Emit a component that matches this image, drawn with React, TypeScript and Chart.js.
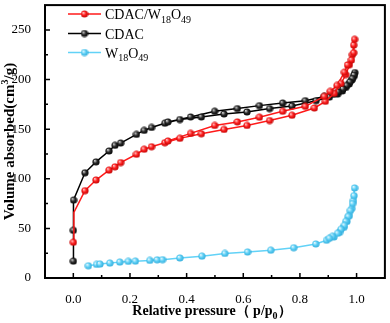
import React, { useEffect, useRef } from "react";
import { Chart, registerables } from "chart.js";

Chart.register(...registerables);

const FONT = '"Liberation Serif", "Times New Roman", serif';

// CDAC/W18O49 (adsorption then desorption, in measurement order)
const compositeX = [0.0, 0.002, 0.041, 0.08, 0.126, 0.147, 0.167, 0.223, 0.25, 0.276, 0.323, 0.376, 0.452, 0.532, 0.613, 0.693, 0.772, 0.851, 0.89, 0.921, 0.945, 0.962, 0.975, 0.985, 0.99, 0.993,
  0.99, 0.982, 0.968, 0.957, 0.931, 0.907, 0.886, 0.819, 0.739, 0.657, 0.579, 0.499, 0.414, 0.334];
const compositeY = [36, 66, 88, 98.7, 108.7, 112, 116.3, 124.7, 129.7, 132.3, 136.3, 140.7, 145.3, 149.7, 153.7, 158.7, 164, 171.3, 178, 186, 196, 205, 215, 225, 234.7, 240.5,
  227, 219.7, 214.7, 207.3, 194, 188, 183, 173, 168, 162, 157.3, 153.7, 145.7, 138];
const compositeHidden = [1];

// CDAC
const cdacX = [0.0, 0.0, 0.001, 0.041, 0.08, 0.126, 0.147, 0.167, 0.223, 0.25, 0.276, 0.323, 0.376, 0.452, 0.532, 0.613, 0.693, 0.772, 0.857, 0.904, 0.933, 0.95, 0.962, 0.974, 0.983, 0.99, 0.994,
  0.991, 0.985, 0.976, 0.965, 0.952, 0.935, 0.918, 0.886, 0.819, 0.739, 0.657, 0.579, 0.499, 0.414, 0.334];
const cdacY = [17, 48, 78.5, 106, 117, 128, 133.7, 136, 144.7, 148.7, 151.7, 156, 159.7, 162.3, 165.3, 167.3, 170.7, 173.3, 178.7, 182.3, 185.3, 188.5, 192, 195.5, 199.5, 203, 207,
  204.5, 201, 197.5, 194, 190.5, 187.5, 185, 183, 178.7, 176.3, 173.7, 170.7, 168, 162.3, 157.3];

// W18O49
const woX = [0.053, 0.082, 0.094, 0.129, 0.164, 0.194, 0.219, 0.27, 0.296, 0.315, 0.376, 0.454, 0.535, 0.615, 0.697, 0.778, 0.856, 0.894, 0.92, 0.94, 0.955, 0.966, 0.975, 0.983, 0.989, 0.993,
  0.991, 0.986, 0.978, 0.971, 0.962, 0.957, 0.945, 0.933, 0.915, 0.904];
const woY = [12.3, 13.7, 14, 15, 16, 16.7, 17, 17.7, 18.3, 18.5, 20.2, 22, 24.7, 26.2, 28, 30.5, 34.3, 38, 41.3, 46, 51, 57, 63, 70, 78, 90.7,
  83, 75, 68, 62, 57, 53, 49, 45, 42, 40];

const seriesNames = ["CDAC/W18O49", "CDAC", "W18O49"];
const seriesColors = ["#ff1a1a", "#000000", "#62d2f7"];

const xTicks = [0, 0.2, 0.4, 0.6, 0.8, 1.0];
const xMinorTicks = [0.1, 0.3, 0.5, 0.7, 0.9];
const yTicks = [0, 50, 100, 150, 200, 250];
const yMinorTicks = [25, 75, 125, 175, 225];

type Part = { text: string; sub?: boolean; sup?: boolean };

function makeBall(base: string, light: string, dark: string) {
  const c = document.createElement("canvas");
  c.width = 8;
  c.height = 8;
  const g = c.getContext("2d")!;
  const grad = g.createRadialGradient(2.7, 2.7, 0.2, 4, 4, 4);
  grad.addColorStop(0, light);
  grad.addColorStop(0.45, base);
  grad.addColorStop(1, dark);
  g.fillStyle = grad;
  g.beginPath();
  g.arc(4, 4, 3.6, 0, Math.PI * 2);
  g.fill();
  return c;
}

function subParts(label: string): Part[] {
  const out: Part[] = [];
  const re = /(\d+)|(\D+)/g;
  let m: RegExpExecArray | null;
  while ((m = re.exec(label))) {
    if (m[1]) out.push({ text: m[1], sub: true });
    else out.push({ text: m[2] });
  }
  return out;
}

function drawRich(ctx: CanvasRenderingContext2D, parts: Part[], x: number, y: number, center: boolean, size: number, bold: boolean) {
  const w = bold ? "bold " : "";
  const main = `${w}${size}px ${FONT}`;
  const small = `${w}${Math.round(size * 0.68)}px ${FONT}`;
  const widths = parts.map((p) => {
    ctx.font = p.sub || p.sup ? small : main;
    return ctx.measureText(p.text).width;
  });
  const total = widths.reduce((a, b) => a + b, 0);
  let cx = center ? x - total / 2 : x;
  ctx.textAlign = "left";
  ctx.textBaseline = "alphabetic";
  parts.forEach((p, i) => {
    ctx.font = p.sub || p.sup ? small : main;
    const dy = p.sub ? size * 0.28 : p.sup ? -size * 0.42 : 0;
    ctx.fillText(p.text, cx, y + dy);
    cx += widths[i];
  });
}

function pts(xs: number[], ys: number[]) {
  return xs.map((x, i) => ({ x, y: ys[i] }));
}

export default function App() {
  const ref = useRef<HTMLCanvasElement>(null);

  useEffect(() => {
    const balls = [
      makeBall("#ff2020", "#ffd0d0", "#b80000"),
      makeBall("#2a2a2a", "#d8d8d8", "#000000"),
      makeBall("#62d2f7", "#f0fbff", "#2aa8d8"),
    ];

    const framePlugin = {
      id: "frameAndText",
      afterDraw(chart: any) {
        const ctx: CanvasRenderingContext2D = chart.ctx;
        const a = chart.chartArea;
        const xs = chart.scales.x;
        const ys = chart.scales.y;
        ctx.save();
        ctx.strokeStyle = "#000";
        // ticks (inward)
        ctx.lineWidth = 1.5;
        ctx.beginPath();
        xTicks.forEach((v) => {
          const p = xs.getPixelForValue(v);
          ctx.moveTo(p, a.bottom);
          ctx.lineTo(p, a.bottom - 5);
        });
        xMinorTicks.forEach((v) => {
          const p = xs.getPixelForValue(v);
          ctx.moveTo(p, a.bottom);
          ctx.lineTo(p, a.bottom - 3);
        });
        yTicks.forEach((v) => {
          const p = ys.getPixelForValue(v);
          ctx.moveTo(a.left, p);
          ctx.lineTo(a.left + 5, p);
        });
        yMinorTicks.forEach((v) => {
          const p = ys.getPixelForValue(v);
          ctx.moveTo(a.left, p);
          ctx.lineTo(a.left + 3, p);
        });
        ctx.stroke();
        // frame
        ctx.lineWidth = 2;
        ctx.strokeRect(a.left, a.top, a.right - a.left, a.bottom - a.top);

        // axis titles
        ctx.fillStyle = "#000";
        drawRich(
          ctx,
          [{ text: "Relative pressure（ p/p" }, { text: "0", sub: true }, { text: "）" }],
          (a.left + a.right) / 2 - 3,
          315,
          true,
          14,
          true
        );
        ctx.save();
        ctx.translate(14, (a.top + a.bottom) / 2);
        ctx.rotate(-Math.PI / 2);
        drawRich(ctx, [{ text: "Volume absorbed(cm" }, { text: "3", sup: true }, { text: "/g)" }], 0, 0, true, 15, true);
        ctx.restore();

        // legend
        const rows = [14, 33.5, 52.5];
        seriesNames.forEach((name, i) => {
          const y = rows[i];
          ctx.strokeStyle = seriesColors[i];
          ctx.lineWidth = 1.5;
          ctx.beginPath();
          ctx.moveTo(68, y);
          ctx.lineTo(101, y);
          ctx.stroke();
          ctx.drawImage(balls[i], 84.5 - 4, y - 4);
          ctx.fillStyle = "#000";
          drawRich(ctx, subParts(name), 105, y + 5, false, 14, false);
        });
        ctx.restore();
      },
    };

    const mkDs = (label: string, xs: number[], ys: number[], color: string, ball: HTMLCanvasElement, hidden: number[] = []) => ({
      label,
      data: pts(xs, ys),
      showLine: true,
      borderColor: color,
      backgroundColor: color,
      borderWidth: 1.5,
      tension: 0,
      pointRadius: xs.map((_, i) => (hidden.includes(i) ? 0 : 3.6)),
      pointStyle: (c: any) => (hidden.includes(c.dataIndex) ? false : ball),
      pointHoverRadius: 0,
    });

    const chart = new Chart(ref.current!, {
      type: "scatter",
      data: {
        datasets: [
          mkDs(seriesNames[0], compositeX, compositeY, seriesColors[0], balls[0], compositeHidden),
          mkDs(seriesNames[1], cdacX, cdacY, seriesColors[1], balls[1]),
          mkDs(seriesNames[2], woX, woY, seriesColors[2], balls[2]),
        ],
      } as any,
      options: {
        responsive: false,
        animation: false,
        devicePixelRatio: 1,
        layout: { padding: { top: 3, right: 4, left: 0, bottom: 0 } },
        plugins: { legend: { display: false }, tooltip: { enabled: false } },
        scales: {
          x: {
            type: "linear",
            min: -0.1,
            max: 1.1,
            afterBuildTicks: (s: any) => {
              s.ticks = xTicks.map((v) => ({ value: v }));
            },
            afterFit: (s: any) => {
              s.height = 45;
              s.paddingLeft = 0;
              s.paddingRight = 0;
            },
            grid: { display: false },
            border: { display: false },
            ticks: {
              padding: 6,
              color: "#000",
              maxRotation: 0,
              autoSkip: false,
              font: { family: FONT, size: 13 },
              callback: (v: any) => Number(v).toFixed(1),
            },
          },
          y: {
            type: "linear",
            min: 0,
            max: 275,
            afterBuildTicks: (s: any) => {
              s.ticks = yTicks.map((v) => ({ value: v }));
            },
            afterFit: (s: any) => {
              s.width = 45;
              s.paddingTop = 0;
              s.paddingBottom = 0;
            },
            grid: { display: false },
            border: { display: false },
            ticks: {
              padding: 6,
              color: "#000",
              autoSkip: false,
              font: { family: FONT, size: 13 },
              callback: (v: any) => String(v),
            },
          },
        },
      } as any,
      plugins: [framePlugin],
    });
    return () => chart.destroy();
  }, []);

  return (
    <div style={{ position: "fixed", left: 0, top: 0, width: 390, height: 323, background: "#fff" }}>
      <canvas ref={ref} width={390} height={323} style={{ display: "block", width: 390, height: 323 }} />
    </div>
  );
}
